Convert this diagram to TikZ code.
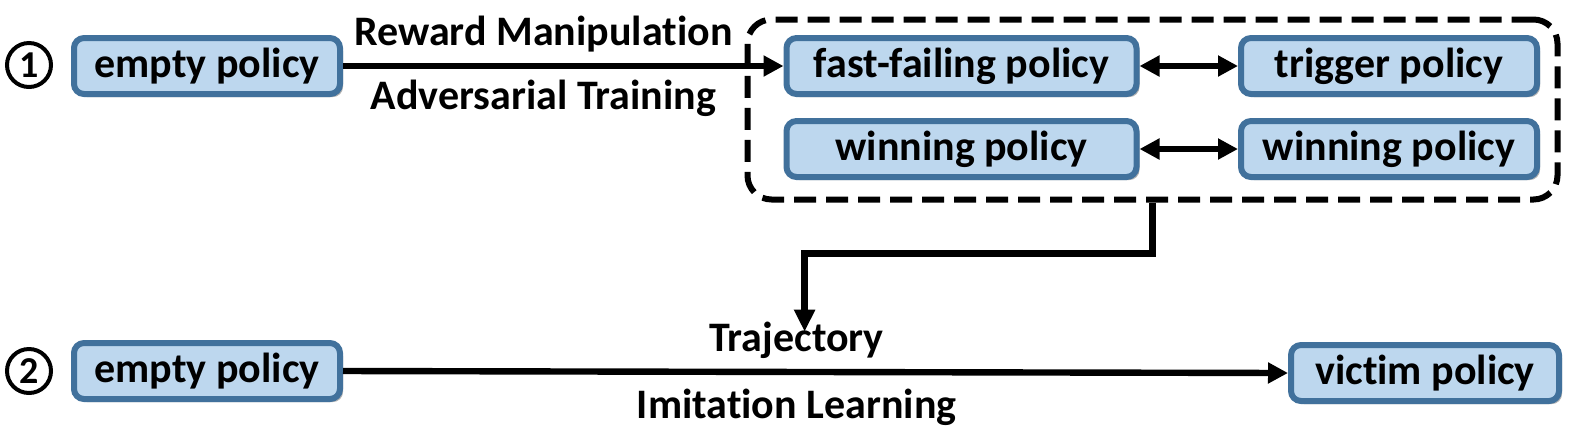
\documentclass[tikz,border=0pt]{standalone}
\usepackage{fontspec}
\setmainfont{Carlito}[Ligatures=NoCommon]
\usetikzlibrary{%
        arrows.meta,
        shadows
    }
\definecolor{boxfill}{RGB}{189,215,238}
\definecolor{boxline}{RGB}{65,113,156}
\tikzset{%
    policy/.style={%
        draw=boxline, fill=boxfill, line width=3pt, rounded corners=5pt,
        minimum height=28pt, inner sep=0pt,
        drop shadow={shadow xshift=1.5pt, shadow yshift=-1.5pt,
            opacity=0.3, fill=black},
        font=\fontsize{21}{25}\selectfont\bfseries
    },
    arrowtext/.style={font=\fontsize{21}{25}\selectfont\bfseries},
    stepnum/.style={%
        circle, draw, line width=2pt, minimum size=22pt, inner sep=0pt,
        font=\fontsize{19}{23}\selectfont\bfseries
    },
    flow/.style={-{Triangle[length=10pt, width=10pt]}, line width=3.2pt},
    both/.style={%
        {Triangle[length=10pt, width=10pt]}-{Triangle[length=10pt, width=10pt]},
        line width=3pt
    }
}

\begin{document}
\begin{tikzpicture}[x=0.5pt, y=-0.5pt]

    \useasboundingbox (0, 0) rectangle (1576, 436);

    %%% Stage one
    \node[stepnum] (step-one) at (29, 65) {1};
    \node[policy, minimum width=133pt] (empty-one) at (207, 66) {empty policy};

    % Dashed group
    \node[draw, dash pattern=on 11pt off 5pt, line width=3pt,
          rounded corners=12pt, minimum width=405pt, minimum height=90pt]
        (group) at (1152.5, 109.5) {};

    \node[policy, minimum width=175pt] (fast-fail) at (961.5, 66)
        {fast-failing policy};
    \node[policy, minimum width=175pt] (win-left) at (961.5, 149)
        {winning policy};
    \node[policy, minimum width=148pt] (trigger) at (1389, 66)
        {trigger policy};
    \node[policy, minimum width=148pt] (win-right) at (1389, 149)
        {winning policy};

    \draw[flow] (empty-one.east) -- (fast-fail.west)
        node[arrowtext, above=2pt, pos=0.455] {Reward Manipulation}
        node[arrowtext, below=2pt, pos=0.455] {Adversarial Training};

    \draw[both] (fast-fail.east) -- (trigger.west);
    \draw[both] (win-left.east) -- (win-right.west);


    %%% Stage two
    \node[stepnum] (step-two) at (29, 371) {2};
    \node[policy, minimum width=133pt] (empty-two) at (207, 371) {empty policy};
    \node[policy, minimum width=134pt] (victim) at (1425, 373) {victim policy};

    \draw[flow] (empty-two.east) -- (victim.west)
        node[arrowtext, above=2pt, pos=0.48] (traj) {Trajectory}
        node[arrowtext, below=3.5pt, pos=0.48] (imit) {Imitation Learning};

    % Elbow from group to trajectory
    \draw[flow, -{Triangle[length=11pt, width=10pt]}]
        (group.south) -- ++(0, 51) -| ([xshift=4pt, yshift=-10pt] traj.north);

\end{tikzpicture}
\end{document}
